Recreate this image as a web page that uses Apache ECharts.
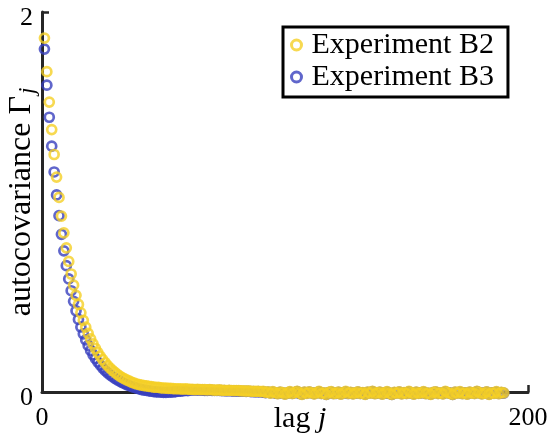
<!DOCTYPE html>
<html>
<head>
<meta charset="utf-8">
<script src="https://cdn.jsdelivr.net/npm/echarts@6/dist/echarts.min.js"></script>
<style>
html,body{margin:0;padding:0;background:#fff;}
#chart{width:553px;height:438px;}
</style>
</head>
<body>
<div id="chart"></div>
<script>
// lag j starts at 1
const lagStart = 1;
const seriesNames = ['Experiment B2', 'Experiment B3'];
const xTicks = [0, 200];
const yTicks = [0, 2];

// Experiment B2 (yellow) autocovariance, lags 1..190
const gammaB2 = [
  1.863, 1.686, 1.526, 1.381, 1.250, 1.131, 1.024, 0.926, 0.838, 0.759,
  0.687, 0.621, 0.562, 0.509, 0.461, 0.417, 0.377, 0.341, 0.309, 0.280,
  0.253, 0.229, 0.207, 0.188, 0.170, 0.154, 0.139, 0.126, 0.114, 0.103,
  0.093, 0.084, 0.076, 0.069, 0.063, 0.057, 0.051, 0.047, 0.042, 0.039,
  0.036, 0.034, 0.032, 0.030, 0.028, 0.026, 0.025, 0.024, 0.022, 0.021,
  0.020, 0.019, 0.019, 0.018, 0.017, 0.017, 0.016, 0.015, 0.016, 0.015,
  0.014, 0.014, 0.013, 0.014, 0.013, 0.012, 0.012, 0.011, 0.012, 0.011,
  0.010, 0.010, 0.011, 0.009, 0.009, 0.008, 0.009, 0.008, 0.007, 0.008,
  0.007, 0.006, 0.006, 0.005, 0.006, 0.004, 0.004, 0.003, 0.004, 0.002,
  0.003, -0.002, 0.001, -0.006, 0.002, -0.004, -0.009, 0.000, -0.003, -0.011,
  -0.005, 0.002, -0.008, -0.002, 0.004, -0.006, -0.012, -0.001, -0.007, 0.001,
  -0.004, -0.010, -0.003, 0.003, -0.008, -0.005, -0.013, -0.002, 0.002, -0.009,
  -0.006, -0.001, -0.011, -0.004, 0.003, -0.007, -0.002, -0.010, -0.005, 0.001,
  -0.008, -0.003, -0.012, 0.000, -0.006, 0.004, -0.009, -0.004, -0.001, -0.011,
  -0.005, 0.002, -0.007, -0.013, -0.002, -0.006, 0.001, -0.010, -0.003, -0.008,
  0.003, -0.005, -0.011, -0.001, -0.007, -0.004, 0.002, -0.009, -0.006, -0.012,
  -0.002, 0.001, -0.008, -0.005, -0.010, 0.003, -0.003, -0.007, -0.013, -0.001,
  -0.006, 0.002, -0.009, -0.004, -0.011, 0.000, -0.005, -0.008, 0.004, -0.003,
  -0.010, -0.006, 0.001, -0.012, -0.004, -0.007, 0.002, -0.009, -0.002, -0.005
];

// Experiment B3 (blue) autocovariance, lags 1..190
const gammaB3 = [
  1.805, 1.615, 1.446, 1.294, 1.158, 1.037, 0.928, 0.830, 0.743, 0.665,
  0.595, 0.533, 0.477, 0.427, 0.382, 0.342, 0.306, 0.274, 0.245, 0.219,
  0.196, 0.176, 0.157, 0.141, 0.126, 0.113, 0.101, 0.090, 0.081, 0.072,
  0.064, 0.057, 0.050, 0.044, 0.038, 0.033, 0.028, 0.024, 0.020, 0.016,
  0.013, 0.010, 0.008, 0.006, 0.004, 0.002, 0.001, 0.000, -0.001, -0.002,
  -0.002, -0.001, -0.001, 0.000, 0.002, 0.004, 0.005, 0.006, 0.008, 0.007,
  0.010, 0.011, 0.010, 0.011, 0.010, 0.010, 0.009, 0.009, 0.010, 0.009,
  0.008, 0.008, 0.009, 0.007, 0.007, 0.006, 0.007, 0.006, 0.005, 0.006,
  0.005, 0.004, 0.004, 0.003, 0.004, 0.002, 0.002, 0.001, 0.002, 0.000,
  0.001, -0.003, 0.000, -0.005, -0.001, -0.006, -0.008, -0.002, -0.004, -0.010,
  -0.006, 0.000, -0.007, -0.003, 0.002, -0.008, -0.011, -0.002, -0.006, -0.001,
  -0.005, -0.009, -0.004, 0.001, -0.007, -0.006, -0.012, -0.003, 0.000, -0.008,
  -0.007, -0.002, -0.010, -0.005, 0.001, -0.008, -0.003, -0.009, -0.006, -0.001,
  -0.007, -0.004, -0.011, -0.002, -0.005, 0.002, -0.008, -0.005, -0.002, -0.010,
  -0.006, 0.000, -0.008, -0.012, -0.003, -0.005, -0.001, -0.009, -0.004, -0.007,
  0.001, -0.006, -0.010, -0.002, -0.006, -0.005, 0.000, -0.008, -0.007, -0.011,
  -0.003, -0.001, -0.007, -0.006, -0.009, 0.001, -0.004, -0.006, -0.012, -0.002,
  -0.005, 0.000, -0.008, -0.005, -0.010, -0.002, -0.004, -0.007, 0.002, -0.004,
  -0.009, -0.005, -0.001, -0.011, -0.005, -0.006, 0.000, -0.008, -0.003, -0.006
];

const YELLOW = '#F5D025';
const BLUE = '#3840BE';
const AXIS = '#262626';
const FONT = '"Liberation Serif", "Times New Roman", serif';

const toPairs = arr => arr.map((v, i) => [lagStart + i, v]);

const chart = echarts.init(document.getElementById('chart'), null, {renderer: 'canvas'});
chart.setOption({
  animation: false,
  backgroundColor: '#fff',
  grid: {left: 42, right: 25, top: 12, bottom: 46, containLabel: false, outerBoundsMode: 'none'},
  legend: {
    orient: 'vertical',
    left: 283,
    top: 27,
    padding: [3, 14, 5, 7],
    itemGap: 2,
    itemWidth: 20,
    itemHeight: 10,
    borderColor: '#000',
    borderWidth: 3,
    backgroundColor: '#fff',
    textStyle: {fontFamily: FONT, fontSize: 30, color: '#000', lineHeight: 30},
    data: [
      {name: seriesNames[0], icon: 'circle', itemStyle: {color: '#fff', borderColor: YELLOW, borderWidth: 3}},
      {name: seriesNames[1], icon: 'circle', itemStyle: {color: '#fff', borderColor: BLUE, borderWidth: 3}}
    ]
  },
  xAxis: {
    type: 'value',
    min: xTicks[0],
    max: xTicks[1],
    interval: xTicks[1] - xTicks[0],
    name: '{a|lag }{b|j}',
    nameLocation: 'middle',
    nameGap: 12,
    nameMoveOverlap: false,
    nameTextStyle: {
      verticalAlign: 'top',
      padding: [0, 0, 0, 30],
      rich: {
        a: {fontFamily: FONT, fontSize: 30, color: '#000'},
        b: {fontFamily: FONT, fontSize: 30, fontStyle: 'italic', color: '#000'}
      }
    },
    axisLine: {show: true, lineStyle: {color: AXIS, width: 3}},
    axisTick: {show: true, inside: true, length: 7, lineStyle: {color: AXIS, width: 2.5}},
    axisLabel: {fontFamily: FONT, fontSize: 26, color: '#000', margin: 13},
    splitLine: {show: false}
  },
  yAxis: {
    type: 'value',
    min: yTicks[0],
    max: yTicks[1],
    interval: yTicks[1] - yTicks[0],
    name: '{a|autocovariance Γ}{b|j}',
    nameLocation: 'middle',
    nameGap: 3,
    nameRotate: 90,
    nameMoveOverlap: false,
    nameTextStyle: {
      padding: [0, 0, 0, 0],
      rich: {
        a: {fontFamily: FONT, fontSize: 32, color: '#000'},
        b: {fontFamily: FONT, fontSize: 23, fontStyle: 'italic', color: '#000', padding: [12, 0, 0, 2]}
      }
    },
    axisLine: {show: true, lineStyle: {color: AXIS, width: 3}},
    axisTick: {show: true, inside: true, length: 7, lineStyle: {color: AXIS, width: 2.5}},
    axisLabel: {fontFamily: FONT, fontSize: 26, color: '#000', margin: 9, verticalAlign: 'top', lineHeight: 12},
    splitLine: {show: false}
  },
  series: [
    {
      name: seriesNames[1],
      type: 'scatter',
      clip: false,
      z: 2,
      symbol: 'circle',
      symbolSize: 9,
      itemStyle: {color: 'rgba(255,255,255,0)', borderColor: BLUE, borderWidth: 2.7},
      data: toPairs(gammaB3)
    },
    {
      name: seriesNames[0],
      type: 'scatter',
      clip: false,
      z: 3,
      symbol: 'circle',
      symbolSize: 9,
      itemStyle: {color: 'rgba(255,255,255,0)', borderColor: YELLOW, borderWidth: 2.7},
      data: toPairs(gammaB2)
    }
  ]
});
</script>
</body>
</html>
